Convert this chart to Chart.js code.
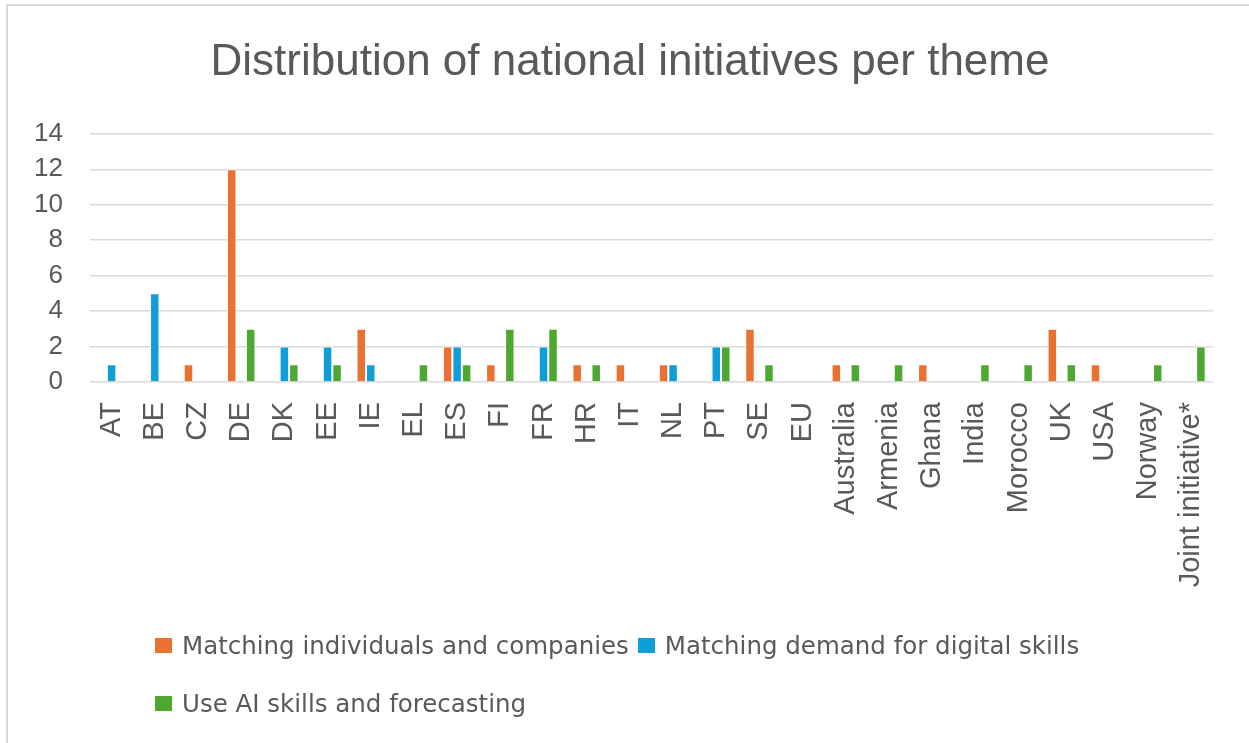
<!DOCTYPE html>
<html>
<head>
<meta charset="utf-8">
<script src="https://cdn.jsdelivr.net/npm/chart.js@4"></script>
<style>
  body { margin: 0; background: #fff; }
  #wrap { position: relative; width: 1249px; height: 743px; overflow: hidden; }
  #frame { position: absolute; left: 6px; top: 4px; width: 1300px; height: 800px; border: 2px solid #d9d9d9; }
  #myChart { position: absolute; left: 0; top: 0; }
  #legend { position: absolute; left: 155px; top: 616px; font-family: 'DejaVu Sans', sans-serif; font-size: 24.5px; color: #595959; }
  .row { height: 58px; display: flex; align-items: center; }
  .item { display: flex; align-items: center; margin-right: 9px; }
  .box { width: 17px; height: 15px; margin-right: 10px; }
</style>
</head>
<body>
<div id="wrap">
  <div id="frame"></div>
  <canvas id="myChart" width="1249" height="743"></canvas>
  <div id="legend"></div>
</div>
<script>
// categories (x axis)
const countries = ['AT', 'BE', 'CZ', 'DE', 'DK', 'EE', 'IE', 'EL', 'ES', 'FI', 'FR', 'HR', 'IT', 'NL', 'PT', 'SE', 'EU',
  'Australia', 'Armenia', 'Ghana', 'India', 'Morocco', 'UK', 'USA', 'Norway', 'Joint initiative*'];

// series
const matchingIndividuals = [0, 0, 1, 12, 0, 0, 3, 0, 2, 1, 0, 1, 1, 1, 0, 3, 0, 1, 0, 1, 0, 0, 3, 1, 0, 0];
const matchingDemand      = [1, 5, 0, 0, 2, 2, 1, 0, 2, 0, 2, 0, 0, 1, 2, 0, 0, 0, 0, 0, 0, 0, 0, 0, 0, 0];
const useAI               = [0, 0, 0, 3, 1, 1, 0, 1, 1, 3, 3, 1, 0, 0, 2, 1, 0, 1, 1, 0, 1, 1, 1, 0, 1, 2];

const seriesNames = ['Matching individuals and companies', 'Matching demand for digital skills', 'Use AI skills and forecasting'];
const yTicks = [0, 2, 4, 6, 8, 10, 12, 14];

const textGray = '#595959';
const gridGray = '#d9d9d9';

// the y labels sit partly inside the left layout padding, so widen the label clip box
const yLabelRoom = {
  id: 'yLabelRoom',
  afterLayout(chart) {
    chart.scales.y.left = 0;
  }
};

var context = document.getElementById('myChart').getContext('2d');
const myChart = new Chart(context, {
  type: 'bar',
  data: {
    labels: countries,
    datasets: [
      { label: seriesNames[0], data: matchingIndividuals, backgroundColor: '#E97132' },
      { label: seriesNames[1], data: matchingDemand, backgroundColor: '#0F9ED5' },
      { label: seriesNames[2], data: useAI, backgroundColor: '#4EA72E' },
    ],
  },
  plugins: [yLabelRoom],
  options: {
    responsive: false,
    animation: false,
    maintainAspectRatio: false,
    // left padding pushes the title centre to the right like the original
    layout: { padding: { left: 47, right: 36, top: 0, bottom: 111 } },
    datasets: {
      bar: {
        categoryPercentage: 0.66,
        barPercentage: 1,
        borderColor: '#ffffff',
        borderWidth: 1,
      }
    },
    plugins: {
      legend: { display: false },
      tooltip: { enabled: false },
      title: {
        display: true,
        text: 'Distribution of national initiatives per theme',
        color: textGray,
        font: { family: "'Liberation Sans', Arial, sans-serif", size: 44, weight: 'normal' },
        padding: { top: 36, bottom: 45 },
      },
    },
    scales: {
      x: {
        grid: { display: false, drawTicks: false },
        border: { display: false },
        afterFit: (scale) => { scale.height = 250; },
        ticks: {
          autoSkip: false,
          maxRotation: 90,
          minRotation: 90,
          padding: 20,
          color: textGray,
          font: { family: "'Liberation Sans', Arial, sans-serif", size: 29 },
        },
      },
      y: {
        min: 0,
        max: 14,
        afterFit: (scale) => { scale.width = 43; },
        afterBuildTicks: (scale) => { scale.ticks = yTicks.map(v => ({ value: v })); },
        grid: { color: gridGray, lineWidth: 1.5, drawTicks: false },
        border: { display: false },
        ticks: {
          padding: 27,
          color: textGray,
          font: { family: "'Liberation Sans', Arial, sans-serif", size: 26 },
        },
      },
    },
  },
});

// html legend built from the datasets (two rows like the original)
const legendEl = document.getElementById('legend');
const rows = [[0, 1], [2]];
rows.forEach(r => {
  const row = document.createElement('div');
  row.className = 'row';
  r.forEach(i => {
    const ds = myChart.data.datasets[i];
    const item = document.createElement('div');
    item.className = 'item';
    const box = document.createElement('span');
    box.className = 'box';
    box.style.background = ds.backgroundColor;
    const txt = document.createElement('span');
    txt.textContent = ds.label;
    item.appendChild(box);
    item.appendChild(txt);
    row.appendChild(item);
  });
  legendEl.appendChild(row);
});
</script>
</body>
</html>
